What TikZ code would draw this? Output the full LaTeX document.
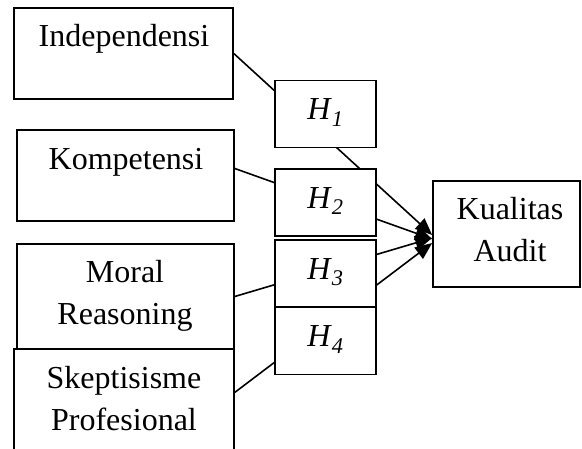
\documentclass[tikz,border=0pt]{standalone}
\usepackage{fontspec}
\setmainfont{Liberation Serif}
\usetikzlibrary{arrows.meta,positioning}
\begin{document}
\begin{tikzpicture}[x=1pt,y=-1pt,line width=1.6pt,
	box/.style={draw,rectangle,inner sep=0pt},
	hbox/.style={draw,fill=white,minimum width=101pt,minimum height=67pt,inner sep=0pt,
		text height=12pt,text depth=0pt,font=\fontsize{32}{42}\selectfont},
	txt/.style={anchor=base,inner sep=0pt,align=center,font=\fontsize{32}{42}\selectfont},
	conn/.style={-{Triangle[length=17pt,width=14pt]}}]
			\useasboundingbox (0,0) rectangle (582,449);
			% variable boxes
			\node[box,minimum width=219pt,minimum height=91pt] (ind) at (123.5,53.5) {};
			\node[box,minimum width=217pt,minimum height=91pt] (komp) at (125.5,175.5) {};
			\node[box,minimum width=217pt,minimum height=105pt] (moral) at (125.5,296.5) {};
			\draw (14,449) |- (234,349) -- (234,449);
			\coordinate (skep) at (234,393);
			\node[box,minimum width=147pt,minimum height=106pt] (kual) at (506.5,234) {};
			% labels (base = last line)
			\node[txt] (indT) at (124,47) {Independensi};
			\node[txt] (kompT) at (126,170) {Kompetensi};
			\node[txt] (moralT) at (125,325) {Moral\\Reasoning};
			\node[txt] (skepT) at (124,431) {Skeptisisme\\Profesional};
			\node[txt] (kualT) at (510,262) {Kualitas\\Audit};
			% paths to Kualitas Audit
			\coordinate (t1) at ([yshift=-1pt]kual.west);
			\coordinate (t2) at ([yshift=-5pt]kual.west);
			\coordinate (t3) at ([yshift=-4pt]kual.west);
			\coordinate (t4) at ([yshift=-9pt]kual.west);
			\draw[conn] (ind.east) -- (t1);
			\draw[conn] ([yshift=7pt]komp.east) -- (t2);
			\draw[conn] (moral.east) -- (t3);
			\draw[conn] (skep) -- (t4);
			% hypotheses
			\node[hbox] (h1) at (325.5,114) {\textit{H}\textsubscript{\textit{1}}};
			\node[hbox] (h2) at (325.5,202.5) {\textit{H}\textsubscript{\textit{2}}};
			\node[hbox] (h3) at (325.5,273.5) {\textit{H}\textsubscript{\textit{3}}};
			\node[hbox] (h4) at (325.5,341) {\textit{H}\textsubscript{\textit{4}}};
\end{tikzpicture}
\end{document}
